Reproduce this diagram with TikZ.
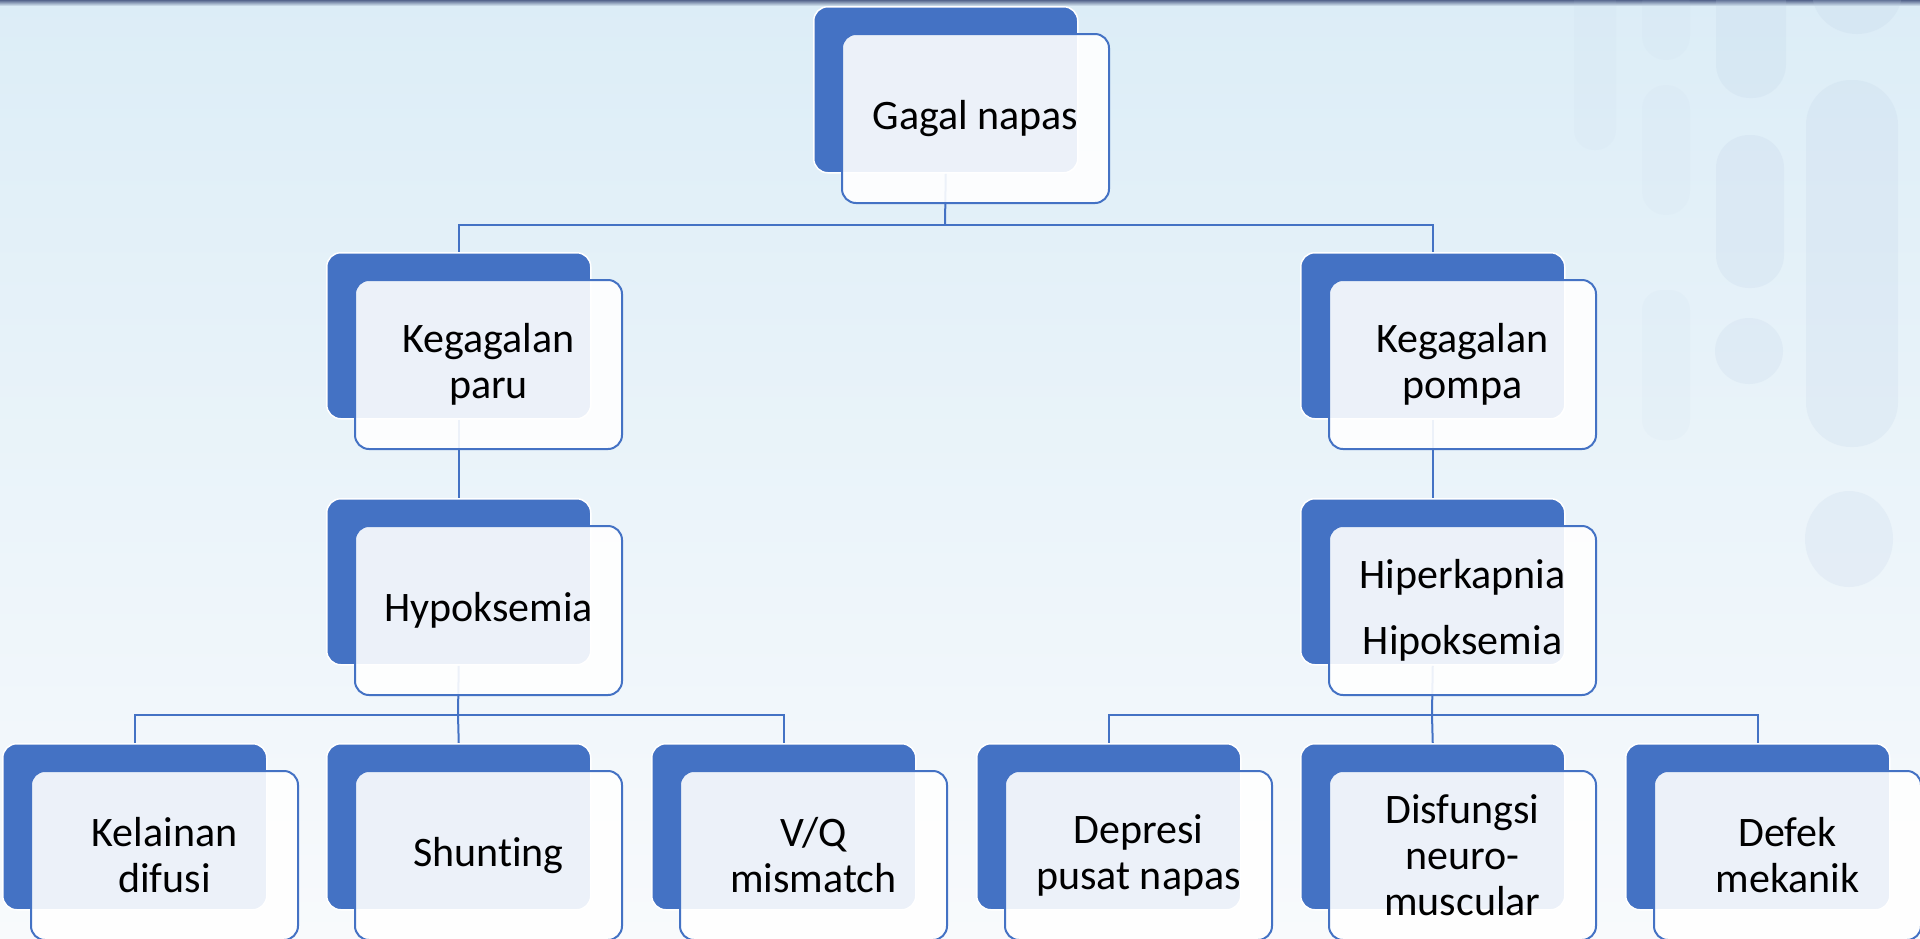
\documentclass[tikz,border=0pt]{standalone}
\usepackage{fontspec}
\setmainfont{Carlito}[Ligatures={NoCommon,NoContextual,NoRequired}]
\definecolor{obl}{HTML}{4472C4}
\definecolor{bgtop}{HTML}{DCEDF7}
\definecolor{bgmid}{HTML}{EEF4FB}
\definecolor{bgbot}{HTML}{F8FAFC}
\definecolor{topbar}{HTML}{55658C}
\definecolor{decoc}{HTML}{B9CBE3}
\pgfdeclarelayer{back}
\pgfdeclarelayer{lines}
\pgfsetlayers{back,lines,main}
\tikzset{
  darkbox/.style={draw=white, line width=1.5pt, fill=obl, rounded corners=14pt,
    minimum width=264pt, minimum height=166pt, anchor=north west, inner sep=0pt},
  lightbox/.style={draw=obl, line width=2pt, fill=white, fill opacity=0.9, text opacity=1,
    rounded corners=14pt, minimum width=267pt, minimum height=169pt, anchor=north west,
    align=center, inner sep=0pt, font=\fontsize{42}{46}\selectfont},
  conn/.style={draw=obl, line width=2pt},
  deco/.style={fill=decoc, fill opacity=0.17, draw=none},
  decof/.style={fill=decoc, fill opacity=0.07, draw=none},
}
\begin{document}
\begin{tikzpicture}[x=1pt,y=-1pt]
\useasboundingbox (0,0) rectangle (1920,938);
\begin{pgfonlayer}{back}
  \shade[top color=bgtop, middle color=bgmid, bottom color=bgbot] (0,0) rectangle (1920,938);
  \shade[top color=topbar, bottom color=bgtop] (0,0) rectangle (1920,6);
  % decorations on the right
  \fill[deco] (1857,-8) ellipse [x radius=45, y radius=42];
  \fill[deco, rounded corners=45pt] (1806,80) rectangle (1898,447);
  \fill[deco] (1849,539) ellipse [x radius=44, y radius=48];
  \fill[deco, rounded corners=34pt] (1716,-40) rectangle (1786,98);
  \fill[deco, rounded corners=33pt] (1716,135) rectangle (1784,288);
  \fill[deco] (1749,351) ellipse [x radius=34, y radius=33];
  \fill[decof, rounded corners=24pt] (1642,-20) rectangle (1690,60);
  \fill[decof, rounded corners=24pt] (1642,85) rectangle (1690,215);
  \fill[decof, rounded corners=20pt] (1642,290) rectangle (1690,440);
  \fill[decof, rounded corners=20pt] (1574,-20) rectangle (1616,150);
\end{pgfonlayer}

% level 1
\node[darkbox] (d1) at (813,6) {};
\node[lightbox] (l1) at (841,33) {Gagal napas};
% level 2
\node[darkbox] (d2) at (326,252) {};
\node[lightbox] (l2) at (354,279) {Kegagalan\\paru};
\node[darkbox] (d3) at (1300,252) {};
\node[lightbox] (l3) at (1328,279) {Kegagalan\\pompa};
% level 3
\node[darkbox] (d4) at (326,498) {};
\node[lightbox] (l4) at (354,525) {Hypoksemia};
\node[darkbox] (d5) at (1300,498) {};
\node[lightbox] (l5) at (1328,525) {Hiperkapnia\\[20pt]Hipoksemia};
% level 4
\node[darkbox] (e1) at (2,743) {};
\node[lightbox] (f1) at (30,770) {Kelainan\\difusi};
\node[darkbox] (e2) at (326,743) {};
\node[lightbox] (f2) at (354,770) {Shunt\kern0pt ing};
\node[darkbox] (e3) at (651,743) {};
\node[lightbox] (f3) at (679,770) {V/Q\\mismatch};
\node[darkbox] (e4) at (976,743) {};
\node[lightbox] (f4) at (1004,770) {Depresi\\pusat napas};
\node[darkbox] (e5) at (1300,743) {};
\node[lightbox] (f5) at (1328,770) {Disfungsi\\neuro-\\muscular};
\node[darkbox] (e6) at (1625,743) {};
\node[lightbox] (f6) at (1653,770) {Defek\\mekanik};

\begin{pgfonlayer}{lines}
  \coordinate (b1) at (945,225);
  \coordinate (b2) at (458,715);
  \coordinate (b3) at (1432,715);
  \draw[conn] (d1.south) -- (b1);
  \draw[conn] (b1) -| (d2.north);
  \draw[conn] (b1) -| (d3.north);
  \draw[conn] (d2.south) -- (d4.north);
  \draw[conn] (d3.south) -- (d5.north);
  \draw[conn] (d4.south) -- (b2);
  \draw[conn] (b2) -| (e1.north);
  \draw[conn] (b2) -- (e2.north);
  \draw[conn] (b2) -| (e3.north);
  \draw[conn] (d5.south) -- (b3);
  \draw[conn] (b3) -| (e4.north);
  \draw[conn] (b3) -- (e5.north);
  \draw[conn] (b3) -| (e6.north);
\end{pgfonlayer}
\end{tikzpicture}
\end{document}
